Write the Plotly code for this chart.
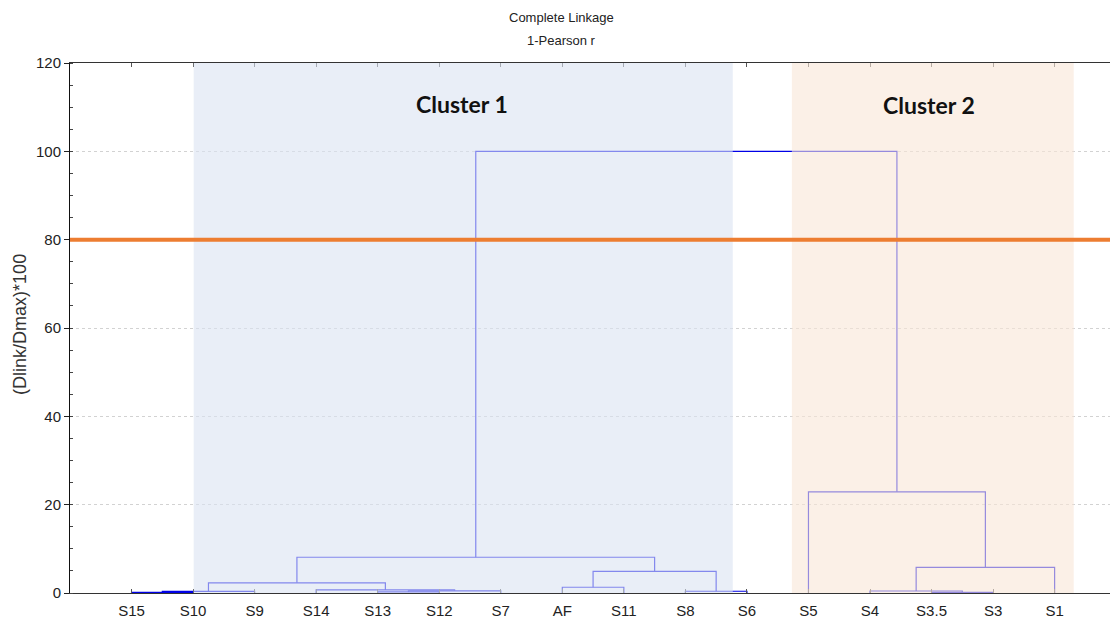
import plotly.graph_objects as go

# Leaf order along the x axis
leaves = ["S15", "S10", "S9", "S14", "S13", "S12", "S7", "AF",
          "S11", "S8", "S6", "S5", "S4", "S3.5", "S3", "S1"]

# Linkage: each merge joins two nodes (leaf name or earlier merge id)
# merge ids start at len(leaves) and follow the order of this list
merge_left = ["S15", 16, "S13", 18, "S14", 17, "AF", "S8", 22, 21, "S3.5", "S4", 27, "S5", 25]
merge_right = ["S10", "S9", "S12", "S7", 19, 20, "S11", "S6", 23, 24, "S3", 26, "S1", 28, 29]
merge_height = [0.15, 0.35, 0.25, 0.5, 0.7, 2.3, 1.3, 0.4, 4.9, 8.1, 0.15, 0.45, 5.8, 22.9, 100.0]

cutoff = 80  # cut height separating the clusters
cluster_names = ["Cluster 1", "Cluster 2"]
cluster_span = [(2.01, 10.77), (11.73, 16.31)]
y_ticks = [0, 20, 40, 60, 80, 100, 120]

n = len(leaves)
xpos = {}
hgt = {}
for i, name in enumerate(leaves):
    xpos[name] = i + 1
    hgt[name] = 0.0

# U-shaped link for every merge
lx, ly = [], []
for k, (a, b, h) in enumerate(zip(merge_left, merge_right, merge_height)):
    xa, xb = xpos[a], xpos[b]
    ha, hb = hgt[a], hgt[b]
    lx += [xa, xa, xb, xb, None]
    ly += [ha, h, h, hb, None]
    nid = n + k
    xpos[nid] = (xa + xb) / 2
    hgt[nid] = h

fig = go.Figure()
fig.add_trace(go.Scatter(x=lx, y=ly, mode="lines",
                         line=dict(color="#0000E6", width=1.2),
                         hoverinfo="skip", showlegend=False))

shade_fill = ["rgb(218,227,242)", "rgb(248,230,215)"]
for (x0, x1), fc in zip(cluster_span, shade_fill):
    fig.add_shape(type="rect", xref="x", yref="y", x0=x0, x1=x1, y0=0, y1=120,
                  fillcolor=fc, opacity=0.6, line=dict(width=0), layer="above")

fig.add_shape(type="line", xref="paper", yref="y", x0=0, x1=1, y0=cutoff, y1=cutoff,
              line=dict(color="#ED7D31", width=4), layer="above")

label_pos = [(6.37, 110.7), (13.96, 110.5)]
for name, (cx, cy) in zip(cluster_names, label_pos):
    fig.add_annotation(x=cx, y=cy, xref="x", yref="y", text="<b>%s</b>" % name,
                       showarrow=False, font=dict(family="Lato", size=23, color="#111111"))

sans = "Liberation Sans, Arial"
fig.add_annotation(x=0.473, y=1.085, xref="paper", yref="paper", text="Complete Linkage",
                   xanchor="center", yanchor="middle",
                   showarrow=False, font=dict(family=sans, size=13, color="#222222"))
fig.add_annotation(x=0.473, y=1.043, xref="paper", yref="paper", text="1-Pearson r",
                   xanchor="center", yanchor="middle",
                   showarrow=False, font=dict(family=sans, size=13, color="#222222"))
fig.add_annotation(x=-0.048, y=0.506, xref="paper", yref="paper", text="(Dlink/Dmax)*100",
                   xanchor="center", yanchor="middle", textangle=-90, showarrow=False,
                   font=dict(family=sans, size=18, color="#333333"))

fig.update_xaxes(range=[0, 16.9], tickmode="array",
                 tickvals=list(range(1, n + 1)), ticktext=leaves,
                 ticks="inside", ticklen=4, tickcolor="#555555",
                 showline=True, linecolor="#333333", linewidth=1, mirror="ticks",
                 showgrid=False, zeroline=False, ticklabelstandoff=4, automargin=False,
                 tickfont=dict(family=sans, size=15, color="#222222"))
fig.update_yaxes(range=[0, 120], tickmode="array", tickvals=y_ticks,
                 ticks="outside", ticklen=5, tickcolor="#222222",
                 minor=dict(ticks="inside", dtick=5, ticklen=3, tickcolor="#444444", showgrid=False),
                 showline=True, linecolor="#111111", linewidth=1,
                 showgrid=True, gridcolor="#D2D2D2", griddash="dot", gridwidth=1,
                 zeroline=False, automargin=False,
                 tickfont=dict(family=sans, size=15, color="#222222"))

fig.update_layout(width=1110, height=621, margin=dict(l=70, r=0, t=63, b=28),
                  plot_bgcolor="white", paper_bgcolor="white", showlegend=False)

fig.write_html("out.html")
